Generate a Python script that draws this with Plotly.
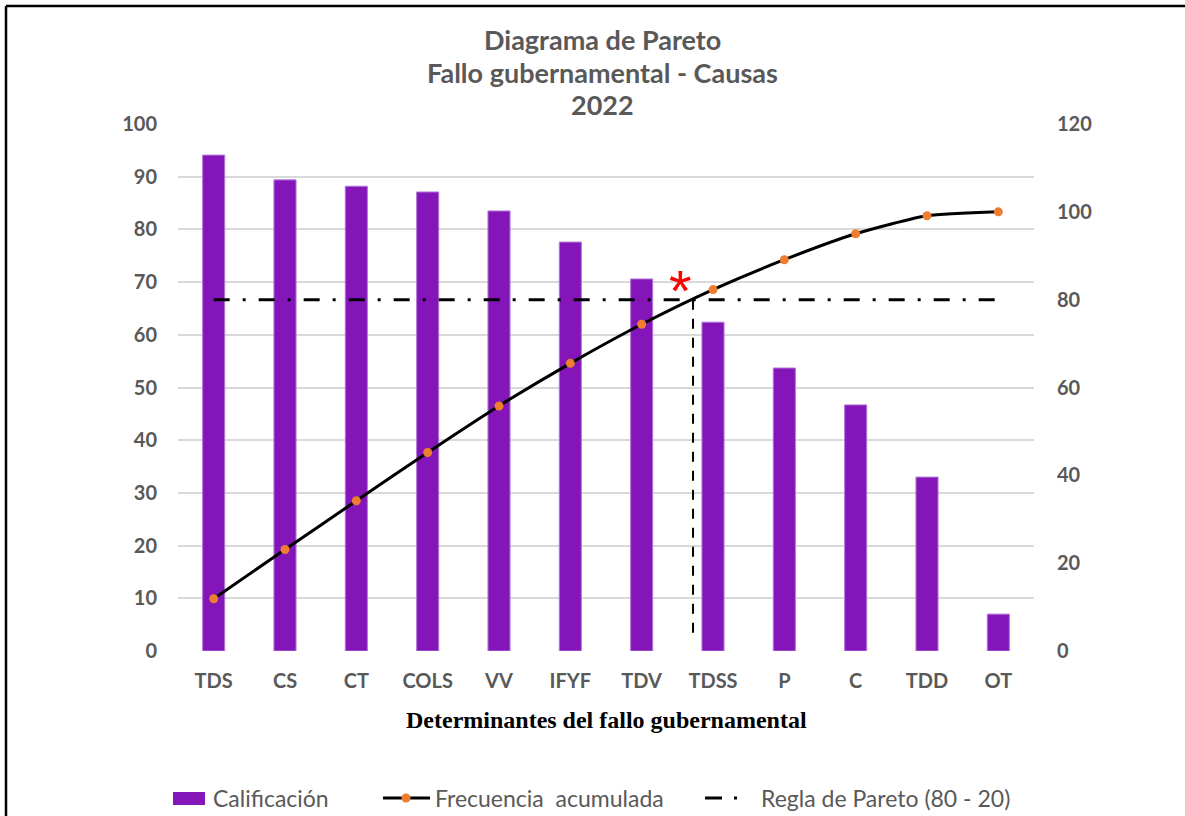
import plotly.graph_objects as go

# Causes of government failure, 2022
categories = ["TDS", "CS", "CT", "COLS", "VV", "IFYF", "TDV", "TDSS", "P", "C", "TDD", "OT"]
calificacion = [94.1, 89.4, 88.2, 87.1, 83.5, 77.6, 70.6, 62.4, 53.7, 46.7, 33.0, 7.0]
frecuencia_acumulada = [11.9, 23.1, 34.2, 45.2, 55.8, 65.5, 74.4, 82.3, 89.1, 95.0, 99.1, 100.0]
regla_pareto = [80] * len(categories)
left_ticks = list(range(0, 101, 10))
right_ticks = list(range(0, 121, 20))

W, H = 1185, 816
ML, MR, MT, MB = 178, 151, 124, 165
PW, PH = W - ML - MR, H - MT - MB


def px_x(px):
    return (px - ML) / PW


def px_y(py):
    return (H - MB - py) / PH


GRAY = "#595959"
PURPLE = "#8416B9"
ORANGE = "#ED7D31"
FONT = "Lato"
TICKFONT = dict(family=FONT, size=20, color=GRAY, weight="bold")

fig = go.Figure()

fig.add_trace(go.Bar(
    x=categories, y=calificacion, name="Calificación",
    marker=dict(color=PURPLE, line=dict(color="#B47AD8", width=1)),
    width=0.31, yaxis="y",
))

fig.add_trace(go.Scatter(
    x=categories, y=frecuencia_acumulada, name="Frecuencia  acumulada",
    mode="lines+markers", yaxis="y2",
    line=dict(color="black", width=3, shape="spline", smoothing=0.6),
    marker=dict(color=ORANGE, size=9),
))

fig.add_trace(go.Scatter(
    x=categories, y=regla_pareto, name="Regla de Pareto (80 - 20)",
    mode="lines", yaxis="y2",
    line=dict(color="black", width=3, dash="16px,13px,3px,13px"),
))

# Vertical cut-off marker where the cumulative curve crosses 80 %
cut_x = 6.72
fig.add_shape(type="line", xref="x", yref="y2", x0=cut_x, x1=cut_x, y0=80, y1=2.5,
              line=dict(color="black", width=2, dash="10px,9px"))

fig.add_annotation(x=6.55, y=80, xref="x", yref="y2", text="*", showarrow=False,
                   font=dict(family="Liberation Sans", size=58, color="red"),
                   yshift=9)

# Outer frame
fig.add_shape(type="line", xref="paper", yref="paper",
              x0=px_x(6), x1=px_x(1200), y0=px_y(6), y1=px_y(6),
              line=dict(color="black", width=2.5))
fig.add_shape(type="line", xref="paper", yref="paper",
              x0=px_x(6), x1=px_x(6), y0=px_y(6), y1=px_y(830),
              line=dict(color="black", width=2.5))

# Title lines
for text, py in [("Diagrama de Pareto", 40), ("Fallo gubernamental - Causas", 72), ("2022", 105)]:
    fig.add_annotation(x=px_x(602), y=px_y(py), xref="paper", yref="paper",
                       text=f"<b>{text}</b>", showarrow=False,
                       xanchor="center", yanchor="middle",
                       font=dict(family=FONT, size=27, color=GRAY))

fig.add_annotation(x=px_x(606), y=px_y(720), xref="paper", yref="paper",
                   text="<b>Determinantes del fallo gubernamental</b>", showarrow=False,
                   xanchor="center", yanchor="middle",
                   font=dict(family="Liberation Serif", size=24, color="black"))

# Legend, laid out item by item
LEG_Y = 798
LEG_FONT = dict(family=FONT, size=23, color=GRAY)
fig.add_shape(type="rect", xref="paper", yref="paper",
              x0=px_x(173), x1=px_x(205), y0=px_y(792), y1=px_y(805),
              fillcolor=PURPLE, line=dict(width=0))
fig.add_shape(type="line", xref="paper", yref="paper",
              x0=px_x(383), x1=px_x(430), y0=px_y(LEG_Y), y1=px_y(LEG_Y),
              line=dict(color="black", width=3))
fig.add_shape(type="circle", xref="paper", yref="paper",
              xsizemode="pixel", ysizemode="pixel",
              xanchor=px_x(406), yanchor=px_y(LEG_Y),
              x0=-4.5, x1=4.5, y0=-4.5, y1=4.5,
              fillcolor=ORANGE, line=dict(width=0))
fig.add_shape(type="line", xref="paper", yref="paper",
              x0=px_x(705), x1=px_x(722), y0=px_y(LEG_Y), y1=px_y(LEG_Y),
              line=dict(color="black", width=3))
fig.add_shape(type="line", xref="paper", yref="paper",
              x0=px_x(734), x1=px_x(737), y0=px_y(LEG_Y), y1=px_y(LEG_Y),
              line=dict(color="black", width=3))
for text, px in [("Calificación", 211), ("Frecuencia  acumulada", 433),
                 ("Regla de Pareto (80 - 20)", 759)]:
    fig.add_annotation(x=px_x(px), y=px_y(LEG_Y), xref="paper", yref="paper",
                       text=text.replace("  ", " &nbsp;"), showarrow=False,
                       xanchor="left", yanchor="middle", font=LEG_FONT)

fig.update_layout(
    width=W, height=H,
    margin=dict(l=ML, r=MR, t=MT, b=MB, autoexpand=False),
    plot_bgcolor="white", paper_bgcolor="white",
    showlegend=False,
    bargap=0.69,
    xaxis=dict(
        type="category", range=[-0.5, 11.5],
        showgrid=False, showline=False, zeroline=False, ticks="",
        ticklabelstandoff=16,
        tickfont=TICKFONT,
    ),
    yaxis=dict(
        range=[0, 100], tickvals=left_ticks,
        showgrid=True, gridcolor="#D9D9D9", gridwidth=1.5,
        zeroline=False, showline=False, ticks="",
        ticklabelstandoff=20,
        tickfont=TICKFONT,
    ),
    yaxis2=dict(
        range=[0, 120], tickvals=right_ticks, overlaying="y", side="right",
        showgrid=False, zeroline=False, showline=False, ticks="",
        ticklabelstandoff=22,
        tickfont=TICKFONT,
    ),
)

fig.write_html("out.html")
